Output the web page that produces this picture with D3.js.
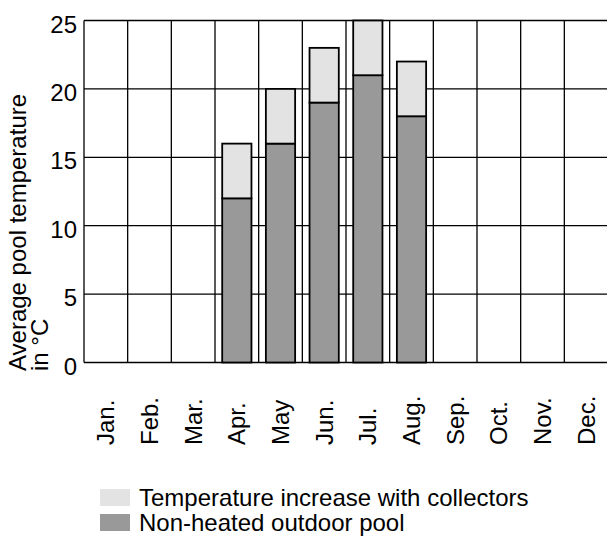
<!DOCTYPE html>
<html>
<head>
<meta charset="utf-8">
<script src="https://cdn.jsdelivr.net/npm/d3@7"></script>
<style>
  html, body { margin: 0; padding: 0; background: #fff; }
  svg { display: block; font-family: "Liberation Sans", Arial, sans-serif; }
</style>
</head>
<body>
<svg id="chart" width="607" height="545"></svg>
<script>
const months = ["Jan.", "Feb.", "Mar.", "Apr.", "May", "Jun.", "Jul.", "Aug.", "Sep.", "Oct.", "Nov.", "Dec."];
// Non-heated outdoor pool (°C), 0 = no bar
const nonHeated = [0, 0, 0, 12, 16, 19, 21, 18, 0, 0, 0, 0];
// Temperature increase with collectors (°C)
const increase = [0, 0, 0, 4, 4, 4, 4, 4, 0, 0, 0, 0];
const yTicks = [0, 5, 10, 15, 20, 25];
const legendLabels = ["Temperature increase with collectors", "Non-heated outdoor pool"];

const svg = d3.select("#chart");
const margin = { left: 84, right: -1, top: 20.5, bottom: 182.5 };
const W = 607, H = 545;
const FS = 24;

const x = d3.scaleBand().domain(months).range([margin.left, W - margin.right]).padding(0);
const y = d3.scaleLinear().domain([0, 25]).range([H - margin.bottom, margin.top]);
const barPad = 0.33;
const bw = x.bandwidth() * (1 - barPad);

// grid horizontal
svg.append("g").selectAll("line").data(yTicks).join("line")
  .attr("x1", margin.left).attr("x2", W - margin.right)
  .attr("y1", d => y(d)).attr("y2", d => y(d))
  .attr("stroke", "#000").attr("stroke-width", 1.3);
// grid vertical (band boundaries)
const bounds = months.map(m => x(m)).concat([x(months[11]) + x.bandwidth()]);
svg.append("g").selectAll("line").data(bounds).join("line")
  .attr("x1", d => d).attr("x2", d => d)
  .attr("y1", y(25)).attr("y2", y(0))
  .attr("stroke", "#000").attr("stroke-width", 1.3);

// bars
const rows = months.map((m, i) => ({ m, base: nonHeated[i], inc: increase[i] })).filter(d => d.base > 0);
const bars = svg.append("g");
bars.selectAll("rect.base").data(rows).join("rect")
  .attr("class", "base")
  .attr("x", d => x(d.m) + (x.bandwidth() - bw) / 2)
  .attr("width", bw)
  .attr("y", d => y(d.base))
  .attr("height", d => y(0) - y(d.base))
  .attr("fill", "#999999").attr("stroke", "#000").attr("stroke-width", 1.8);
bars.selectAll("rect.inc").data(rows).join("rect")
  .attr("class", "inc")
  .attr("x", d => x(d.m) + (x.bandwidth() - bw) / 2)
  .attr("width", bw)
  .attr("y", d => y(d.base + d.inc))
  .attr("height", d => y(d.base) - y(d.base + d.inc))
  .attr("fill", "#e3e3e3").attr("stroke", "#000").attr("stroke-width", 1.8);

// y tick labels
svg.append("g").selectAll("text").data(yTicks).join("text")
  .attr("x", 77).attr("y", d => y(d) + 12)
  .attr("text-anchor", "end").attr("font-size", FS).attr("fill", "#000")
  .text(d => d);

// x labels rotated
svg.append("g").selectAll("text").data(months).join("text")
  .attr("transform", d => `translate(${x(d) + x.bandwidth() / 2 + 8.5},445) rotate(-90)`)
  .attr("text-anchor", "start").attr("font-size", FS).attr("fill", "#000")
  .text(d => d);

// y title (two lines)
const yt = svg.append("text")
  .attr("transform", "translate(0,371) rotate(-90)")
  .attr("text-anchor", "start").attr("font-size", FS).attr("fill", "#000");
yt.append("tspan").attr("x", 0).attr("y", 26).text("Average pool temperature");
yt.append("tspan").attr("x", 0).attr("y", 48).text("in °C");

// legend
const legendColors = ["#e3e3e3", "#999999"];
const lg = svg.append("g");
lg.selectAll("rect").data(legendLabels).join("rect")
  .attr("x", 100).attr("y", (d, i) => 489 + i * 25)
  .attr("width", 30).attr("height", 17)
  .attr("fill", (d, i) => legendColors[i]);
lg.selectAll("text").data(legendLabels).join("text")
  .attr("x", 139).attr("y", (d, i) => 506 + i * 25)
  .attr("font-size", FS).attr("fill", "#000")
  .text(d => d);
</script>
</body>
</html>
